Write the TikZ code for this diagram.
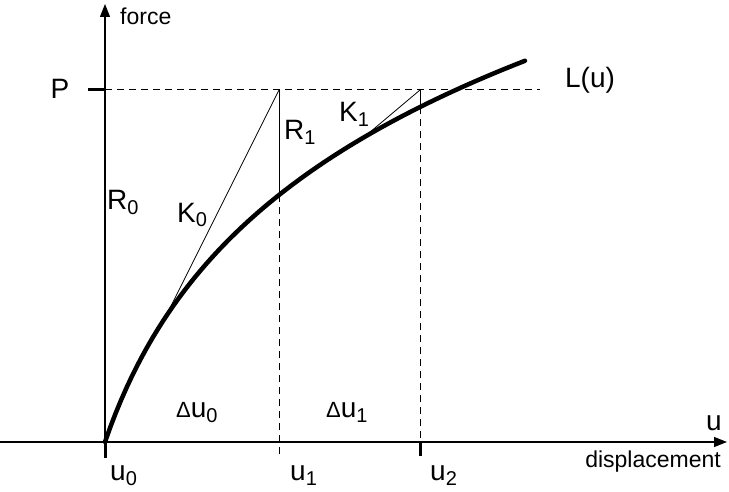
\documentclass[tikz,border=0pt]{standalone}
\usepackage{fontspec}
\setmainfont{Liberation Sans}
\usetikzlibrary{arrows.meta, positioning}
\newcommand{\sbs}[1]{\raisebox{-5pt}{\fontsize{20}{20}\selectfont #1}}
\newcommand{\dlt}{{\fontsize{22}{22}\selectfont Δ}}

\begin{document}
\begin{tikzpicture}[x=1pt, y=1pt,
  axis/.style={line width=1.3pt, -{Triangle[length=13pt,width=10pt]}},
  load/.style={line width=4.5pt, line cap=round},
  thinline/.style={line width=0.8pt},
  guide/.style={line width=1pt, dash pattern=on 7pt off 5pt},
  tickmark/.style={line width=3pt},
  lbl/.style={font=\fontsize{28}{30}\selectfont, inner sep=0pt},
  word/.style={font=\fontsize{23}{25}\selectfont, inner sep=0pt},
]
  \useasboundingbox (0,0) rectangle (729,491);

  % axes
  \coordinate (O)      at (105,49);
  \coordinate (xstart) at (0,49);
  \coordinate (xend)   at (727,49);
  \coordinate (ybot)   at (105,33);
  \coordinate (yend)   at (105,487);
  \draw[axis] (xstart) -- (xend);
  \draw[axis] (O) -- (yend);
  \draw[tickmark] (O) -- (ybot);

  % load level P
  \coordinate (ptick) at (88,401);
  \coordinate (pmark) at (105,401);
  \coordinate (pend)  at (540,401);
  \draw[tickmark] (ptick) -- (pmark);
  \draw[guide] (pmark) -- (pend);

  % iteration points
  \coordinate (top1) at (279,401);
  \coordinate (c1)   at (279,296);
  \coordinate (u1low) at (279,36);
  \coordinate (top2) at (420,401);
  \coordinate (c2)   at (420,384);
  \coordinate (u2ax) at (420,49);
  \coordinate (u2low) at (420,35);
  \coordinate (k0start) at (165,173);
  \coordinate (k1start) at (363,353);

  \draw[guide] (c1) -- (u1low);
  \draw[guide] (c2) -- (u2ax);
  \draw[tickmark] (u2ax) -- (u2low);
  \draw[thinline] (top1) -- (c1);
  \draw[thinline] (top2) -- (c2);
  \draw[thinline] (k0start) -- (top1);
  \draw[thinline] (k1start) -- (top2);

  % load curve L(u)
  \draw[load] plot[domain=0:420, samples=80] ({105+\x},{49+189.7*ln(1+\x/65)});

  % labels
  \node[word, anchor=west] (force) at (120,475) {force};
  \node[lbl] (P) at (60,402) {P};
  \node[lbl] (L) at (590,411) {L(u)};
  \node[lbl, anchor=base west] (R0) at (107,281) {R\sbs{0}};
  \node[lbl, anchor=base west] (K0) at (177,269) {K\sbs{0}};
  \node[lbl, anchor=base west] (R1) at (284,351) {R\sbs{1}};
  \node[lbl, anchor=base west] (K1) at (339,369) {K\sbs{1}};
  \node[lbl, anchor=base west] (du0) at (176,74) {\dlt u\sbs{0}};
  \node[lbl, anchor=base west] (du1) at (326,74) {\dlt u\sbs{1}};
  \node[lbl, anchor=base west] (u0) at (110,11) {u\sbs{0}};
  \node[lbl, anchor=base west] (u1) at (290,11) {u\sbs{1}};
  \node[lbl, anchor=base west] (u2) at (430,11) {u\sbs{2}};
  \node[lbl, anchor=base west] (u) at (706,61) {u};
  \node[word, anchor=base east] (disp) at (721,24) {displacement};
\end{tikzpicture}
\end{document}
